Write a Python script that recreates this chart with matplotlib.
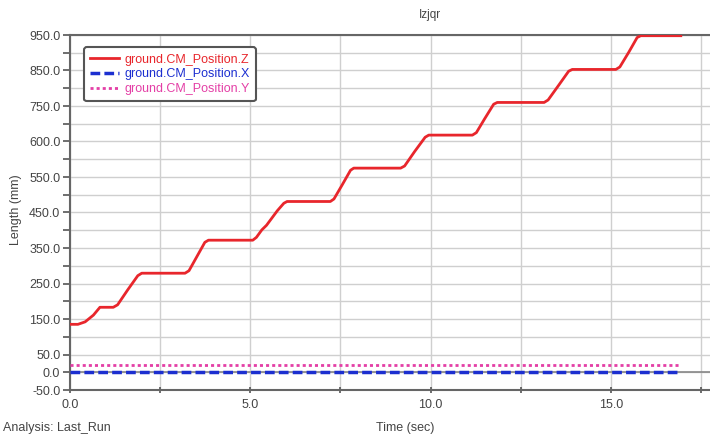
import matplotlib
matplotlib.use("Agg")
import matplotlib.pyplot as plt
from matplotlib.ticker import FixedLocator

plt.rcParams["font.family"] = ["Liberation Sans", "DejaVu Sans"]

# ---- data ----
t_z = [0.0, 0.22, 0.42, 0.65, 0.83, 1.2, 1.32, 1.6, 1.88, 1.99,
       3.19, 3.3, 3.52, 3.74, 3.84,
       5.07, 5.17, 5.32, 5.45, 5.75, 5.93, 6.02,
       7.22, 7.32, 7.55, 7.78, 7.87,
       9.17, 9.28, 9.56, 9.85, 9.95,
       11.16, 11.27, 11.5, 11.75, 11.85,
       13.15, 13.26, 13.55, 13.83, 13.93,
       15.14, 15.25, 15.5, 15.73, 15.83, 16.94]
z_vals = [135, 135, 142, 161, 183, 183, 190, 232, 272, 279,
          279, 286, 326, 366, 372,
          372, 380, 401, 414, 455, 476, 481,
          481, 488, 528, 569, 575,
          575, 581, 622, 662, 668,
          668, 675, 714, 755, 760,
          760, 767, 808, 848, 853,
          853, 860, 902, 943, 948, 948]
t_xy = [0.0, 16.94]
x_vals = [0.0, 0.0]
y_vals = [20.0, 20.0]

series_names = ["ground.CM_Position.Z", "ground.CM_Position.X", "ground.CM_Position.Y"]
ytick_vals = [-50, 0, 50, 150, 250, 350, 450, 550, 650, 750, 850, 950]
ytick_labels = ["-50.0", "0.0", "50.0", "150.0", "250.0", "350.0", "450.0",
                "550.0", "600.0", "750.0", "850.0", "950.0"]
xtick_vals = [0, 5, 10, 15]
xtick_labels = ["0.0", "5.0", "10.0", "15.0"]
title_text = "Izjqr"
xlabel_text = "Time (sec)"
ylabel_text = "Length (mm)"
analysis_text = "Analysis: Last_Run"

# ---- figure ----
fig = plt.figure(figsize=(7.1, 4.36), dpi=100)
ax = fig.add_axes([70/710, 46/436, 640/710, 355/436])

red = "#e8262c"
blue = "#1c2fd0"
magenta = "#e43fa6"
txtc = "#444444"

ax.axhline(0, color="#888888", lw=1.2, zorder=1)
lz, = ax.plot(t_z, z_vals, color=red, lw=2.0, zorder=4)
lx, = ax.plot(t_xy, x_vals, color=blue, lw=2.5, ls=(0, (2.8, 1.2)), zorder=3)
ly, = ax.plot(t_xy, y_vals, color=magenta, lw=2.0, ls=(0, (1.1, 1.1)), zorder=3)

ax.set_xlim(0, 17.75)
ax.set_ylim(-50, 950)

ax.yaxis.set_major_locator(FixedLocator(ytick_vals))
ax.set_yticklabels(ytick_labels)
ax.yaxis.set_minor_locator(FixedLocator(list(range(100, 901, 100))))
ax.xaxis.set_major_locator(FixedLocator(xtick_vals))
ax.set_xticklabels(xtick_labels)
ax.xaxis.set_minor_locator(FixedLocator([2.5, 7.5, 12.5, 17.5]))

ax.grid(True, which="both", color="#cfcfcf", lw=1.0, zorder=0)
ax.set_axisbelow(True)

ax.tick_params(axis="y", which="both", direction="out", length=5, width=1.2,
               color="#555555", labelsize=9, labelcolor=txtc, pad=2)
ax.tick_params(axis="x", which="both", direction="inout", length=5, width=1.2,
               color="#555555", labelsize=9, labelcolor=txtc, pad=4)

for side in ["left", "bottom", "top"]:
    ax.spines[side].set_color("#666666")
    ax.spines[side].set_linewidth(1.5)
ax.spines["right"].set_visible(False)

leg = ax.legend([lz, lx, ly], series_names, loc="upper left",
                bbox_to_anchor=(0.022, 0.965), fontsize=9, frameon=True,
                fancybox=True, handlelength=2.3, handletextpad=0.4,
                labelspacing=0.22, borderpad=0.5, borderaxespad=0.0)
leg.get_frame().set_edgecolor("#555555")
leg.get_frame().set_linewidth(1.5)
leg.get_frame().set_alpha(1.0)
for txt, c in zip(leg.get_texts(), [red, blue, magenta]):
    txt.set_color(c)

fig.text(430/710, 1 - 15/436, title_text, ha="center", va="center",
         fontsize=8.5, color=txtc)
fig.text(16/710, 1 - 210/436, ylabel_text, ha="center", va="center",
         rotation=90, fontsize=9, color=txtc)
fig.text(405/710, 1 - 428/436, xlabel_text, ha="center", va="center",
         fontsize=9, color=txtc)
fig.text(3/710, 1 - 428/436, analysis_text, ha="left", va="center",
         fontsize=9, color=txtc)

fig.savefig("out.png", dpi=100)
